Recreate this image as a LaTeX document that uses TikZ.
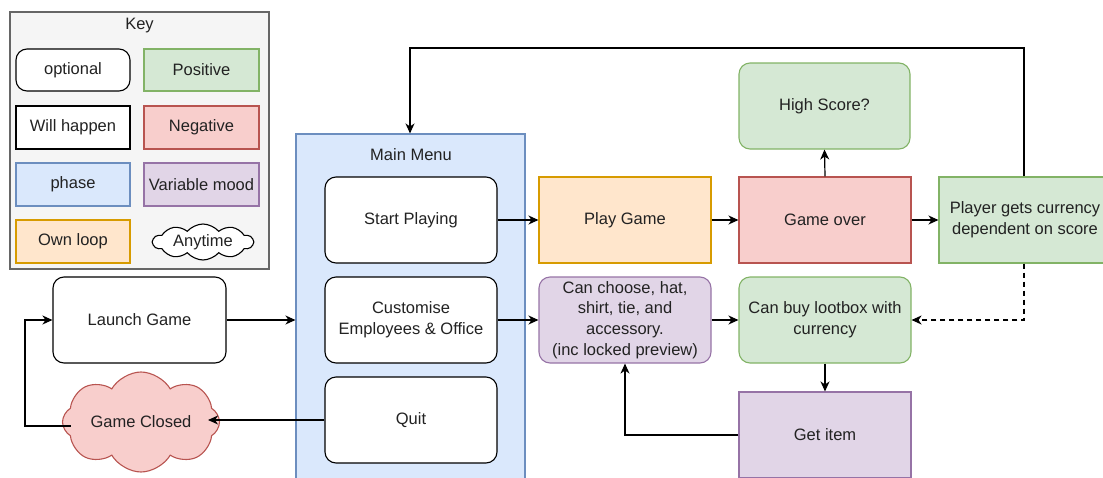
\documentclass[tikz,border=0pt]{standalone}
\usepackage{fontspec}
\setmainfont{Liberation Sans}
\usetikzlibrary{arrows.meta,shapes.symbols,calc}

\definecolor{txt}{HTML}{222222}
\definecolor{greenF}{HTML}{D5E8D4}\definecolor{greenD}{HTML}{82B366}
\definecolor{redF}{HTML}{F8CECC}\definecolor{redD}{HTML}{B85450}
\definecolor{blueF}{HTML}{DAE8FC}\definecolor{blueD}{HTML}{6C8EBF}
\definecolor{purpF}{HTML}{E1D5E7}\definecolor{purpD}{HTML}{9673A6}
\definecolor{orngF}{HTML}{FFE6CC}\definecolor{orngD}{HTML}{D79B00}
\definecolor{keyF}{HTML}{F5F5F5}\definecolor{keyD}{HTML}{666666}

\tikzset{
  base/.style={draw, line width=1.1pt, align=center, text=txt, inner sep=2pt,
    font=\fontsize{16.5}{20.7}\selectfont},
  optbox/.style={base, fill=white, draw=black, rounded corners=11pt},
  willbox/.style={base, fill=white, draw=black},
  posbox/.style={base, fill=greenF, draw=greenD},
  posopt/.style={posbox, rounded corners=11pt},
  negbox/.style={base, fill=redF, draw=redD},
  phasebox/.style={base, fill=blueF, draw=blueD},
  moodbox/.style={base, fill=purpF, draw=purpD},
  moodopt/.style={moodbox, rounded corners=11pt},
  loopbox/.style={base, fill=orngF, draw=orngD},
  anycloud/.style={base, cloud, cloud puffs=8, cloud puff arc=120, cloud ignores aspect, inner sep=0pt},
  sz/.style 2 args={minimum width=#1pt, minimum height=#2pt},
  arr/.style={line width=1.2pt, draw=black, -{Stealth[length=10pt,width=9pt,inset=3pt]}},
  lbl/.style={text=txt, font=\fontsize{16.5}{20.7}\selectfont, inner sep=0pt}
}

\begin{document}
\begin{tikzpicture}[x=1pt, y=-1pt]
\useasboundingbox (0,0) rectangle (1103,477);

% legend
\node[base, fill=keyF, draw=keyD, sz={259}{257}] (key) at (139.5,140.5) {};
\node[lbl] (keytitle) at (139.5,26) {Key};
\node[optbox, sz={114}{42}] (kopt) at (73,70) {optional};
\node[posbox, sz={115}{42}] (kpos) at (201.5,70) {Positive};
\node[willbox, sz={114}{43}] (kwill) at (73,127.5) {Will happen};
\node[negbox, sz={115}{43}] (kneg) at (201.5,127.5) {Negative};
\node[phasebox, sz={114}{43}] (kphase) at (73,184.5) {phase};
\node[moodbox, sz={115}{43}, inner sep=0pt] (kmood) at (201.5,184.5) {Variable mood};
\node[loopbox, sz={114}{43}] (kloop) at (73,241.5) {Own loop};
\node[anycloud, cloud puffs=10, cloud puff arc=100, fill=white, draw=black, sz={100}{36}] (kany) at (203,242) {Anytime};

% main menu phase
\node[phasebox, sz={229}{360}] (menu) at (410.5,314) {};
\node[lbl] (menutitle) at (411,155) {Main Menu};
\node[optbox, sz={172}{86}] (start) at (411,220) {Start Playing};
\node[optbox, sz={172}{86}] (cust) at (411,320) {Customise\\Employees \& Office};
\node[optbox, sz={172}{86}] (quit) at (411,420) {Quit};

% launching and closing
\node[optbox, sz={173}{86}] (launch) at (139.5,320) {Launch Game};
\node[anycloud, fill=redF, draw=redD, sz={157}{100}] (closed) at (141,422) {Game Closed};

% game loop
\node[loopbox, sz={172}{86}] (play) at (625,220) {Play Game};
\node[negbox, sz={172}{86}] (over) at (825,220) {Game over};
\node[posbox, sz={172}{86}] (player) at (1025,220) {Player gets currency\\dependent on score};
\node[posopt, sz={171}{86}] (high) at (824.5,106) {High Score?};

% customisation
\node[moodopt, sz={172}{86}, inner sep=0pt] (choose) at (625,320) {Can choose, hat,\\shirt, tie, and\\accessory.\\(inc locked preview)};
\node[posopt, sz={172}{86}] (loot) at (825,320) {Can buy lootbox with\\currency};
\node[moodbox, sz={172}{86}] (get) at (825,435) {Get item};

% connectors
\coordinate (leftrail) at (25,0);
\coordinate (top) at (410,48);
\draw[arr] (launch.east) -- (launch.east -| menu.west);
\draw[arr] (quit.west) -- ([xshift=-12pt]closed.east |- quit.west);
\draw[arr] ([xshift=9pt]closed.west |- 0,426) -| (leftrail |- launch.west) -- (launch.west);
\draw[arr] (start.east) -- (play.west);
\draw[arr] (cust.east) -- (choose.west);
\draw[arr] (play.east) -- (over.west);
\draw[arr] (over.east) -- (player.west);
\draw[arr] (over.north) -- (high.south);
\draw[arr] (choose.east) -- (loot.west);
\draw[arr] (loot.south) -- (get.north);
\draw[arr] (get.west) -| (choose.south);
\draw[arr, dashed, dash pattern=on 5pt off 4pt] ([xshift=-1pt]player.south) |- (loot.east);
\draw[arr] ([xshift=-1pt]player.north) |- (top) -- (top |- menu.north);
\end{tikzpicture}
\end{document}
